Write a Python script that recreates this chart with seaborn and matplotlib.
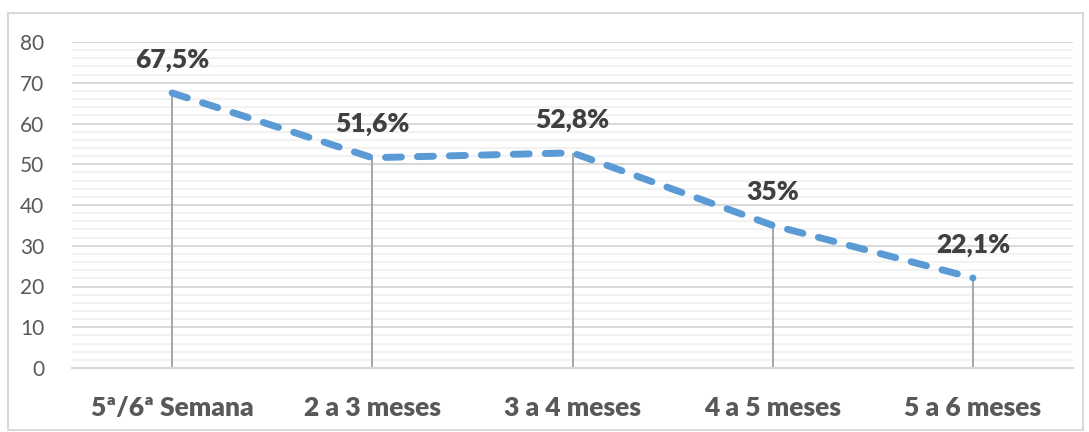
import matplotlib
matplotlib.use("Agg")
import matplotlib.pyplot as plt
import seaborn as sns
import pandas as pd
from matplotlib.ticker import MultipleLocator
from matplotlib.patches import Rectangle

categories = ["5ª/6ª Semana", "2 a 3 meses", "3 a 4 meses", "4 a 5 meses", "5 a 6 meses"]
values = [67.5, 51.6, 52.8, 35.0, 22.1]
value_labels = ["67,5%", "51,6%", "52,8%", "35%", "22,1%"]
y_ticks = [0, 10, 20, 30, 40, 50, 60, 70, 80]

sns.set_theme(style="white")
plt.rcParams["font.family"] = ["Lato", "DejaVu Sans"]

df = pd.DataFrame({"pos": range(len(categories)), "valor": values})

fig = plt.figure(figsize=(10.89, 4.32), dpi=100)
ax = fig.add_axes([72 / 1089, 1 - 368 / 432, 1001 / 1089, 326 / 432])

# outer frame
fig.patches.append(Rectangle((8 / 1089, 2 / 432), 1075 / 1089, 417 / 432,
                             transform=fig.transFigure, fill=False,
                             edgecolor="#D9D9D9", linewidth=1.5, zorder=0))

# gridlines
ax.yaxis.set_major_locator(MultipleLocator(10))
ax.yaxis.set_minor_locator(MultipleLocator(2))
ax.grid(which="minor", axis="y", color="#F2F2F2", linewidth=1.5, zorder=0)
ax.grid(which="major", axis="y", color="#D9D9D9", linewidth=1.5, zorder=0)
ax.set_axisbelow(True)

# drop lines from each point to the axis
ax.vlines(df["pos"], 0, df["valor"], color="#A6A6A6", linewidth=1.4, zorder=2)

sns.lineplot(data=df, x="pos", y="valor", ax=ax, color="#5B9BD5",
             linewidth=5, zorder=3)
line = ax.lines[-1]
line.set_dashes([2.3, 2.3])
line.set_dash_capstyle("round")

for x, v, lab in zip(df["pos"], df["valor"], value_labels):
    ax.annotate(lab, (x, v), xytext=(0, 24), textcoords="offset points",
                ha="center", va="center", fontsize=19, fontweight="heavy",
                color="#404040")

ax.set_xlim(-0.5, len(categories) - 0.5)
ax.set_ylim(0, 80)
ax.set_yticks(y_ticks)
ax.set_xticks(range(len(categories)))
ax.set_xticklabels(categories, fontsize=19, fontweight="heavy", color="#595959")
ax.tick_params(axis="y", labelsize=15, labelcolor="#595959", length=0, pad=20)
ax.tick_params(axis="x", length=0, pad=20)
ax.set_xlabel("")
ax.set_ylabel("")
for s in ["top", "right", "left"]:
    ax.spines[s].set_visible(False)
ax.spines["bottom"].set_color("#D9D9D9")
ax.spines["bottom"].set_linewidth(1.5)

fig.savefig("out.png", dpi=100)
